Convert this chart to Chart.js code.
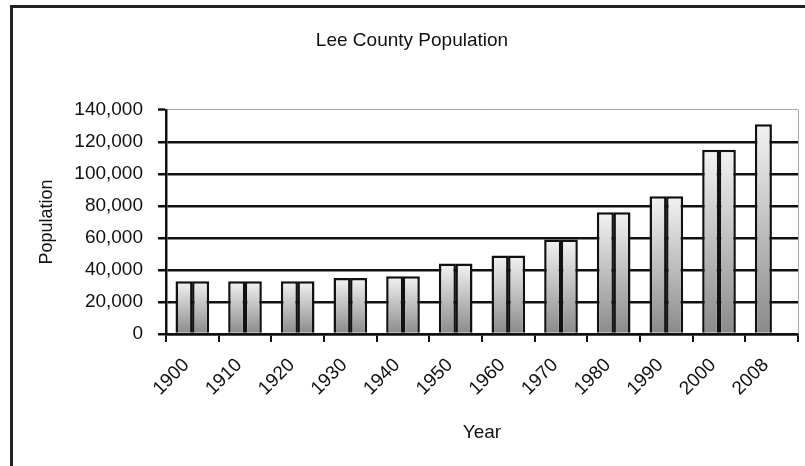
<!DOCTYPE html>
<html>
<head>
<meta charset="utf-8">
<title>Lee County Population</title>
<script src="https://cdn.jsdelivr.net/npm/chart.js@4"></script>
<style>
  html, body { margin: 0; padding: 0; background: #fff; overflow: hidden; }
  #wrap { position: relative; width: 805px; height: 466px; }
  #frame {
    position: absolute; left: 10px; top: 5px; width: 820px; height: 480px;
    border-top: 3px solid #222; border-left: 3px solid #222; pointer-events: none;
  }
  canvas { position: absolute; left: 0; top: 0; }
</style>
</head>
<body>
<div id="wrap">
  <canvas id="chart" width="805" height="466"></canvas>
  <div id="frame"></div>
</div>
<script>
// values
const years = ["1900", "1910", "1920", "1930", "1940", "1950", "1960", "1970", "1980", "1990", "2000", "2008"];
const popLeft = [33000, 33000, 33000, 35000, 36000, 44000, 49000, 59000, 76000, 86000, 115000, 131000];
const popRight = [33000, 33000, 33000, 35000, 36000, 44000, 49000, 59000, 76000, 86000, 115000, null];
const yTicks = [0, 20000, 40000, 60000, 80000, 100000, 120000, 140000];

const FONT = "'Liberation Sans', Arial, sans-serif";
const GREY = "#a8a8a8";
const INK = "#111";

// light at the top of each bar, darker towards the axis
function barFill(c) {
  const chart = c.chart;
  const area = chart.chartArea;
  if (!area || c.type !== "data" || c.raw == null) return "#c0c0c0";
  const top = chart.scales.y.getPixelForValue(c.raw);
  const g = chart.ctx.createLinearGradient(0, top, 0, area.bottom);
  g.addColorStop(0, "#f3f3f3");
  g.addColorStop(1, "#8a8a8a");
  return g;
}

// thin grey line on the right edge of the plot
const plotEdge = {
  id: "plotEdge",
  beforeDatasetsDraw(chart) {
    const { ctx, chartArea: a } = chart;
    ctx.save();
    ctx.strokeStyle = GREY;
    ctx.lineWidth = 1;
    ctx.beginPath();
    ctx.moveTo(a.right + 0.5, a.top);
    ctx.lineTo(a.right + 0.5, a.bottom);
    ctx.stroke();
    ctx.restore();
  },
};

// the two halves overlap a touch so no grid line peeks through the seam
const bar = (data) => ({
  data,
  backgroundColor: barFill,
  borderColor: INK,
  borderWidth: 2.5,
  borderSkipped: "bottom",
  categoryPercentage: 0.63,
  barPercentage: 1.03,
});

new Chart(document.getElementById("chart"), {
  type: "bar",
  data: { labels: years, datasets: [bar(popLeft), bar(popRight)] },
  plugins: [plotEdge],
  options: {
    responsive: false,
    animation: false,
    layout: { padding: { left: 26, right: 7, top: 0, bottom: 0 } },
    plugins: {
      legend: { display: false },
      tooltip: { enabled: false },
      title: {
        display: true,
        text: "Lee County Population",
        color: INK,
        font: { family: FONT, size: 19, weight: "normal" },
        padding: { top: 29, bottom: 58 },
      },
    },
    scales: {
      x: {
        afterFit: (s) => { s.height = 132; },
        grid: { display: true, drawOnChartArea: false, drawTicks: true, tickLength: 8, color: INK, lineWidth: 2 },
        border: { color: INK, width: 2.5 },
        ticks: { color: INK, font: { family: FONT, size: 19 }, minRotation: 45, maxRotation: 45, padding: 12, labelOffset: -6 },
        title: { display: true, text: "Year", color: INK, font: { family: FONT, size: 19 }, padding: { top: 0, bottom: 22 } },
      },
      y: {
        min: 0,
        max: 140000,
        afterFit: (s) => { s.width = 140; },
        afterBuildTicks: (s) => { s.ticks = yTicks.map((v) => ({ value: v })); },
        grid: {
          color: (c) => (c.tick && c.tick.value === 140000 ? GREY : INK),
          lineWidth: (c) => (c.tick && c.tick.value === 140000 ? 1 : 2.5),
          tickColor: INK,
          tickWidth: 2.5,
          tickLength: 8,
        },
        border: { color: INK, width: 2.5 },
        ticks: {
          color: INK,
          font: { family: FONT, size: 19 },
          padding: 15,
          callback: (v) => Number(v).toLocaleString("en-US"),
        },
        title: { display: true, text: "Population", color: INK, font: { family: FONT, size: 18 }, padding: { top: 10, bottom: 0 } },
      },
    },
  },
});
</script>
</body>
</html>
